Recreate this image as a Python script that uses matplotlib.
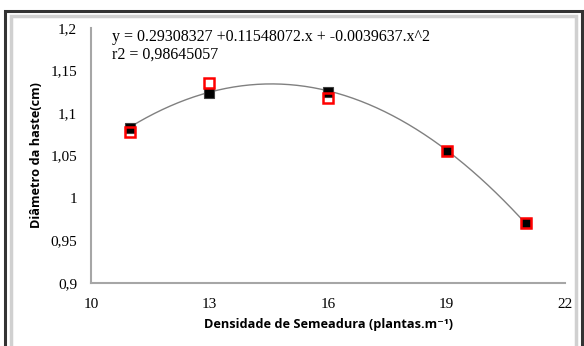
import numpy as np
import matplotlib.pyplot as plt
from matplotlib.patches import Rectangle

# densidade de semeadura (plantas por metro)
densidade = [11, 13, 16, 19, 21]
diametro_obs = [1.0824, 1.1232, 1.1247, 1.0556, 0.9702]
diametro_est = [1.0773, 1.1356, 1.1173, 1.0556, 0.9702]

# coeficientes da linha de tendencia (c0, c1, c2)
coef = [0.29308327, 0.11548072, -0.0039637]
r2 = 0.98645057

xticks = [10, 13, 16, 19, 22]
yticks = [0.9, 0.95, 1.0, 1.05, 1.1, 1.15, 1.2]
ytick_labels = ['0,9', '0,95', '1', '1,05', '1,1', '1,15', '1,2']

serif = 'Liberation Serif'
sans = ['Open Sans', 'DejaVu Sans']

fig = plt.figure(figsize=(5.84, 3.46), dpi=100)
ax = fig.add_axes([0.1558, 0.1821, 0.8117, 0.737])

# moldura externa
W, H = 584, 346
fig.patches.append(Rectangle((5 / W, -0.1), (582 - 5) / W, 1 - 11 / H + 0.1,
                             transform=fig.transFigure, fill=False,
                             edgecolor='#333333', linewidth=2.2))
fig.patches.append(Rectangle((11 / W, -0.1), (576 - 11) / W, 1 - 16 / H + 0.1,
                             transform=fig.transFigure, fill=False,
                             edgecolor='#d0d0d0', linewidth=2.5))

xs = np.linspace(min(densidade), max(densidade), 200)
ys = coef[0] + coef[1] * xs + coef[2] * xs ** 2
ax.plot(xs, ys, color='#808080', linewidth=1.0, zorder=2)

ax.plot(densidade, diametro_obs, linestyle='none', marker='s', markersize=6.5,
        markerfacecolor='black', markeredgecolor='#404040', markeredgewidth=0.8, zorder=3)
ax.plot(densidade, diametro_est, linestyle='none', marker='s', markersize=7,
        markerfacecolor='none', markeredgecolor='#ff0000', markeredgewidth=1.8, zorder=4)

ax.set_xlim(10, 22)
ax.set_ylim(0.9, 1.2)
ax.set_xticks(xticks)
ax.set_xticklabels([str(t) for t in xticks], fontfamily=serif, fontsize=11)
ax.set_yticks(yticks)
ax.set_yticklabels(ytick_labels, fontfamily=serif, fontsize=11)
ax.tick_params(axis='both', length=0)
ax.tick_params(axis='x', pad=11)
ax.tick_params(axis='y', pad=10)

for s in ['top', 'right']:
    ax.spines[s].set_visible(False)
for s in ['left', 'bottom']:
    ax.spines[s].set_color('#a6a6a6')
    ax.spines[s].set_linewidth(1.5)

ax.set_xlabel('Densidade de Semeadura (plantas.m⁻¹)', family=sans,
              fontweight='bold', fontsize=9.2, labelpad=5)
ax.set_ylabel('Diâmetro da haste(cm)', family=sans, fontweight='bold',
              fontsize=9.2, labelpad=5)

eq = f'y = {coef[0]} +{coef[1]}.x + {coef[2]}.x^2'
fig.text(112 / W, 1 - 37 / H, eq, fontfamily=serif, fontsize=11.5, va='center', ha='left')
fig.text(112 / W, 1 - 55 / H, 'r2 = ' + str(r2).replace('.', ','), fontfamily=serif,
         fontsize=11.5, va='center', ha='left')

fig.savefig('out.png', dpi=100)
